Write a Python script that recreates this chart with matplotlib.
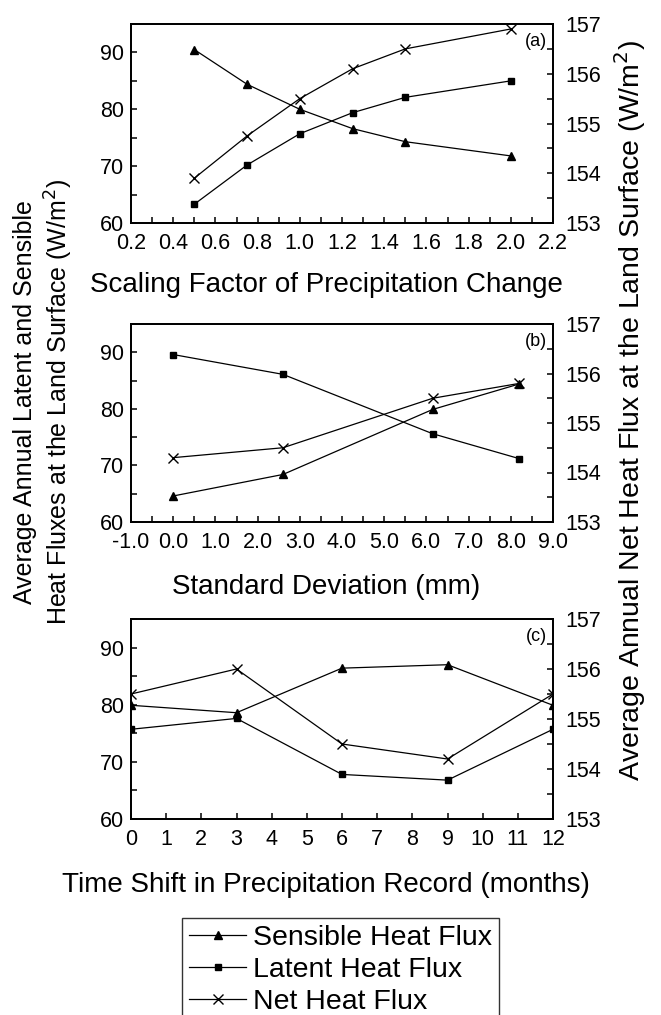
import matplotlib.pyplot as plt
from matplotlib.ticker import MultipleLocator

plt.rcParams['font.family'] = ['Liberation Sans', 'DejaVu Sans']

# panel (a): scaling factor of precipitation change
scale_factor = [0.5, 0.75, 1.0, 1.25, 1.5, 2.0]
sens_a = [90.5, 84.4, 80.0, 76.6, 74.3, 71.8]
lat_a = [63.3, 70.2, 75.7, 79.4, 82.1, 85.0]
net_a = [153.9, 154.75, 155.5, 156.1, 156.5, 156.9]

# panel (b): standard deviation (mm)
std_dev = [0.0, 2.6, 6.15, 8.2]
sens_b = [64.6, 68.4, 79.9, 84.4]
lat_b = [89.6, 86.1, 75.6, 71.2]
net_b = [154.3, 154.5, 155.5, 155.8]

# panel (c): time shift (months)
shift = [0, 3, 6, 9, 12]
sens_c = [79.9, 78.6, 86.4, 87.0, 79.9]
lat_c = [75.7, 77.6, 67.8, 66.8, 75.7]
net_c = [155.5, 156.0, 154.5, 154.2, 155.5]

fig = plt.figure(figsize=(6.61, 10.15), dpi=100)

W, H = 661.0, 1015.0
left, width = 131 / W, 422 / W
boxes = [(223, 199), (522, 198), (819, 200)]

panels = [
    (scale_factor, sens_a, lat_a, net_a, (0.2, 2.2), 0.2, 0.1, '(a)',
     'Scaling Factor of Precipitation Change', 285, '%.1f'),
    (std_dev, sens_b, lat_b, net_b, (-1.0, 9.0), 1.0, 0.5, '(b)',
     'Standard Deviation (mm)', 587, '%.1f'),
    (shift, sens_c, lat_c, net_c, (0, 12), 1, None, '(c)',
     'Time Shift in Precipitation Record (months)', 885, '%d'),
]

lines = []
for (bot, h), (x, s, l, n, xlim, major, minor, tag, xlabel, ly, fmt) in zip(boxes, panels):
    ax = fig.add_axes([left, 1 - bot / H, width, h / H])
    ax2 = ax.twinx()
    p1, = ax.plot(x, s, color='black', lw=0.9, marker='^', ms=6, label='Sensible Heat Flux')
    p2, = ax.plot(x, l, color='black', lw=0.9, marker='s', ms=5, label='Latent Heat Flux')
    p3, = ax2.plot(x, n, color='black', lw=0.9, marker='x', ms=6.5, mew=1.0, label='Net Heat Flux')
    lines = [p1, p2, p3]

    ax.set_xlim(*xlim)
    ax.set_ylim(60, 95)
    ax2.set_ylim(153, 157)
    ax.xaxis.set_major_locator(MultipleLocator(major))
    if minor:
        ax.xaxis.set_minor_locator(MultipleLocator(minor))
    ax.xaxis.set_major_formatter(plt.FormatStrFormatter(fmt))
    ax.yaxis.set_major_locator(MultipleLocator(10))
    ax.yaxis.set_minor_locator(MultipleLocator(5))
    ax2.yaxis.set_major_locator(MultipleLocator(1))
    ax2.yaxis.set_minor_locator(MultipleLocator(0.5))

    ax.tick_params(axis='x', which='both', direction='in', length=4, width=1.1,
                   labelsize=15.5, pad=7, top=False)
    ax.tick_params(axis='y', which='both', direction='in', length=4, width=1.1,
                   labelsize=15.5, pad=5, right=False)
    ax2.tick_params(axis='y', which='both', direction='in', length=4, width=1.1,
                    labelsize=15.5, pad=9)
    for sp in ax.spines.values():
        sp.set_linewidth(1.3)
    for sp in ax2.spines.values():
        sp.set_linewidth(1.3)

    ax.text(0.985, 0.955, tag, transform=ax.transAxes, ha='right', va='top', fontsize=13)
    fig.text(326 / W, 1 - ly / H, xlabel, ha='center', va='center', fontsize=20)

fig.text(44 / W, 1 - 402 / H,
         'Average Annual Latent and Sensible\nHeat Fluxes at the Land Surface (W/m$^2$)',
         rotation=90, ha='center', va='center', fontsize=18, linespacing=1.25,
         multialignment='center')
fig.text(630 / W, 1 - 410 / H,
         'Average Annual Net Heat Flux at the Land Surface (W/m$^2$)',
         rotation=90, ha='center', va='center', fontsize=20.5)

leg = fig.legend(handles=lines, loc='upper left', bbox_to_anchor=(182 / W, 1 - 918 / H),
                 frameon=True, fancybox=False, edgecolor='black', fontsize=20.5,
                 handlelength=2.0, handletextpad=0.25, borderpad=0.25, labelspacing=0.2,
                 borderaxespad=0)
leg.get_frame().set_linewidth(1.0)

fig.savefig('out.png', dpi=100)
